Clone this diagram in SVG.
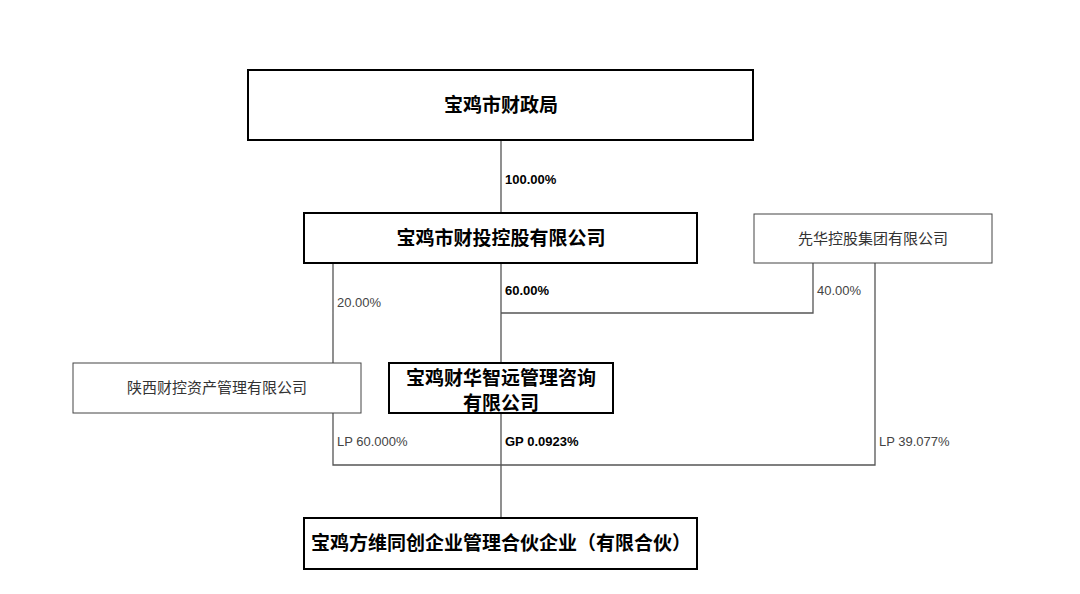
<svg xmlns="http://www.w3.org/2000/svg" width="1080" height="594" viewBox="0 0 1080 594">
<style>
.b{fill:#fff;stroke:#000;stroke-width:2}
.t{fill:#fff;stroke:#444;stroke-width:1}
.l{stroke:#555;stroke-width:1.3;fill:none}
text{font-family:"Liberation Sans","Noto Sans CJK SC",sans-serif;fill:#000}
.bt{font-size:19px;font-weight:bold;text-anchor:middle}
.nt{font-size:15px;text-anchor:middle;fill:#333}
.pb{font-size:13px;font-weight:bold}
.pn{font-size:13px;fill:#444}
</style>
<rect width="1080" height="594" fill="#fff"/>
<g id="connectors">
<path class="l" d="M501 140V213M333 263V363M501 263V363M813 263V313H501M875 263V465H333V413M501 413V518"/>
<text class="pb" x="505" y="184">100.00%</text>
<text class="pn" x="337" y="307">20.00%</text>
<text class="pb" x="505" y="295">60.00%</text>
<text class="pn" x="817" y="295">40.00%</text>
<text class="pn" x="337" y="446">LP 60.000%</text>
<text class="pb" x="505" y="446">GP 0.0923%</text>
<text class="pn" x="879" y="446">LP 39.077%</text>
</g>
<g id="n1"><rect class="b" x="248" y="70" width="505" height="70"/><text class="bt" x="501" y="112">宝鸡市财政局</text></g>
<g id="n2"><rect class="b" x="304" y="213" width="393" height="50"/><text class="bt" x="501" y="245">宝鸡市财投控股有限公司</text></g>
<g id="n3"><rect class="t" x="754" y="214" width="238" height="49"/><text class="nt" x="873" y="244">先华控股集团有限公司</text></g>
<g id="n4"><rect class="t" x="73" y="363" width="288" height="50"/><text class="nt" x="217" y="393">陕西财控资产管理有限公司</text></g>
<g id="n5"><rect class="b" x="389" y="363" width="224" height="50"/><text class="bt" x="501" y="385">宝鸡财华智远管理咨询</text><text class="bt" x="501" y="410">有限公司</text></g>
<g id="n6"><rect class="b" x="304" y="518" width="393" height="51"/><text class="bt" x="501" y="550">宝鸡方维同创企业管理合伙企业（有限合伙）</text></g>
</svg>
